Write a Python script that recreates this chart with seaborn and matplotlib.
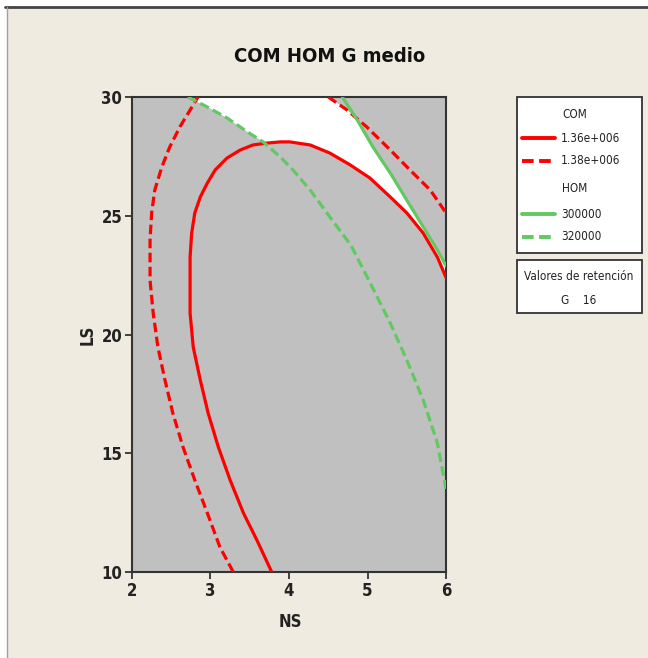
import numpy as np
import matplotlib
matplotlib.use("Agg")
import matplotlib.pyplot as plt
import seaborn as sns
from matplotlib.lines import Line2D
from matplotlib.patches import Rectangle

# ---- data: traced contour lines (NS, LS) ----
com_136_ns = [3.78, 3.59, 3.42, 3.25, 3.10, 2.97, 2.87, 2.78, 2.74, 2.74, 2.74, 2.76, 2.80, 2.87,
              2.96, 3.06, 3.21, 3.38, 3.54, 3.72, 3.89, 4.01, 4.27, 4.52, 4.78, 5.03, 5.29,
              5.50, 5.71, 5.89, 6.00]
com_136_ls = [10.0, 11.35, 12.48, 13.87, 15.26, 16.69, 18.08, 19.47, 20.9, 22.29, 23.26, 24.27,
              25.12, 25.79, 26.38, 26.93, 27.43, 27.77, 27.98, 28.06, 28.11, 28.11, 27.98, 27.64,
              27.14, 26.59, 25.79, 25.12, 24.27, 23.26, 22.40]

com_138a_ns = [3.29, 3.12, 2.96, 2.80, 2.65, 2.52, 2.42, 2.33, 2.27, 2.23, 2.23, 2.23, 2.25,
               2.29, 2.38, 2.48, 2.61, 2.74, 2.84]
com_138a_ls = [10.0, 11.05, 12.48, 13.87, 15.26, 16.69, 18.08, 19.47, 20.9, 22.29, 22.72, 23.98,
               25.12, 26.08, 27.05, 27.89, 28.74, 29.45, 30.0]
com_138b_ns = [4.50, 4.74, 4.99, 5.29, 5.54, 5.80, 6.00]
com_138b_ls = [30.0, 29.45, 28.74, 27.77, 26.93, 26.08, 25.12]

hom_300_ns = [4.68, 4.87, 5.07, 5.29, 5.50, 5.71, 5.89, 6.00]
hom_300_ls = [30.0, 29.03, 27.89, 26.8, 25.66, 24.53, 23.56, 22.90]

hom_320_ns = [2.71, 2.96, 3.21, 3.47, 3.67, 3.89, 4.05, 4.27, 4.52, 4.79, 5.03, 5.29, 5.50,
              5.71, 5.89, 6.00]
hom_320_ls = [30.0, 29.58, 29.12, 28.53, 28.11, 27.47, 26.93, 26.08, 24.95, 23.75, 22.2, 20.48,
              18.93, 17.24, 15.43, 13.5]

x_ticks = [2, 3, 4, 5, 6]
y_ticks = [10, 15, 20, 25, 30]
legend_com = ["1.36e+006", "1.38e+006"]
legend_hom = ["300000", "320000"]
hold_var, hold_val = "G", "16"

# ---- style ----
sns.set_style("ticks")
FONT = ['Liberation Sans Narrow', 'DejaVu Sans Condensed', 'DejaVu Sans']
plt.rcParams['font.family'] = FONT
plt.rcParams['font.stretch'] = 'condensed'
RED = "#FF0000"
GREEN = "#62C862"
BG = "#F0EBE0"
GRAY = "#C0C0C0"
W, H = 648, 658
TXT = dict(family=FONT, stretch="condensed")

fig = plt.figure(figsize=(6.48, 6.58), dpi=100, facecolor="white")
# beige panel + frame lines
fig.patches.append(Rectangle((7 / W, 0), 1 - 7 / W, 1 - 8 / H, transform=fig.transFigure,
                             facecolor=BG, edgecolor="none", zorder=-10))
fig.add_artist(Line2D([5 / W, 1], [1 - 7 / H, 1 - 7 / H], transform=fig.transFigure,
                      color="#444444", lw=2, zorder=-5))
fig.add_artist(Line2D([7 / W, 7 / W], [0, 1 - 7 / H], transform=fig.transFigure,
                      color="#A0A0A0", lw=1, zorder=-5))

ax = fig.add_axes([132 / W, 1 - 572 / H, (446 - 132) / W, (572 - 97) / H])
ax.set_zorder(5)
ax.set_facecolor(GRAY)

# white feasible region (between the traced contours)
xg = np.linspace(2.84, 6.0, 800)
rx = np.array(com_136_ns[10:], dtype=float)
ry = np.array(com_136_ls[10:], dtype=float)
lower = np.interp(xg, np.array(hom_320_ns, float), np.array(hom_320_ls, float))
red_low = np.interp(xg, rx, ry)
lower = np.where(xg >= rx[0], np.maximum(lower, red_low), lower)
upper = np.full_like(xg, 30.0)
g_up = np.interp(xg, np.array(hom_300_ns, float), np.array(hom_300_ls, float))
upper = np.where(xg >= hom_300_ns[0], np.minimum(upper, g_up), upper)
r_up = np.interp(xg, np.array(com_138b_ns, float), np.array(com_138b_ls, float))
upper = np.where(xg >= com_138b_ns[0], np.minimum(upper, r_up), upper)
bottom = np.minimum(lower, upper)
poly_x = np.concatenate([xg, xg[::-1]])
poly_y = np.concatenate([upper, bottom[::-1]])
ax.fill(poly_x, poly_y, color="white", lw=0, zorder=2)

LW = 2.3
DASH = (0, (3.0, 1.4))
kw = dict(sort=False, estimator=None, lw=LW, ax=ax, zorder=3)
sns.lineplot(x=com_136_ns, y=com_136_ls, color=RED, **kw)
sns.lineplot(x=com_138a_ns, y=com_138a_ls, color=RED, linestyle=DASH, **kw)
sns.lineplot(x=com_138b_ns, y=com_138b_ls, color=RED, linestyle=DASH, **kw)
sns.lineplot(x=hom_300_ns, y=hom_300_ls, color=GREEN, **kw)
sns.lineplot(x=hom_320_ns, y=hom_320_ls, color=GREEN, linestyle=DASH, **kw)
for ln in ax.lines:
    ln.set_solid_joinstyle("round")

ax.set_xlim(2, 6)
ax.set_ylim(10, 30)
ax.set_xticks(x_ticks)
ax.set_yticks(y_ticks)
ax.set_xticklabels([str(t) for t in x_ticks], fontsize=12, fontweight="bold", color="#222222", **TXT)
ax.set_yticklabels([str(t) for t in y_ticks], fontsize=12, fontweight="bold", color="#222222", **TXT)
ax.tick_params(direction="out", length=5, width=1.3, color="#333333", pad=2)
for s in ax.spines.values():
    s.set_color("#333333")
    s.set_linewidth(1.5)
ax.set_xlabel("")
ax.set_ylabel("")

fig.text(290 / W, 1 - 622 / H, "NS", ha="center", va="center", fontsize=12, fontweight="bold",
         color="#222222", **TXT)
fig.text(88 / W, 1 - 335 / H, "LS", ha="center", va="center", fontsize=12, fontweight="bold",
         rotation=90, color="#222222", **TXT)
fig.text(330 / W, 1 - 57 / H, "COM HOM G medio", ha="center", va="center", fontsize=14.5,
         fontweight="bold", color="#111111", **TXT)

# legend boxes
def px(x, y):
    return x / W, 1 - y / H

x0, x1 = 517, 642
fig.patches.append(Rectangle(px(x0, 253), (x1 - x0) / W, (253 - 97) / H, transform=fig.transFigure,
                             facecolor="white", edgecolor="#333333", lw=1.3, zorder=2))
fig.patches.append(Rectangle(px(x0, 313), (x1 - x0) / W, (313 - 260) / H, transform=fig.transFigure,
                             facecolor="white", edgecolor="#333333", lw=1.3, zorder=2))
LF = 8.5
fig.text(*px(562, 115), "COM", ha="left", va="center", fontsize=LF, color="#222222", zorder=3, **TXT)
fig.text(*px(562, 189), "HOM", ha="left", va="center", fontsize=LF, color="#222222", zorder=3, **TXT)
rows = [(138, RED, "-", legend_com[0]), (161, RED, DASH, legend_com[1]),
        (214, GREEN, "-", legend_hom[0]), (237, GREEN, DASH, legend_hom[1])]
for y, c, ls, lab in rows:
    fig.add_artist(Line2D([522 / W, 555 / W], [1 - y / H, 1 - y / H], transform=fig.transFigure,
                          color=c, lw=2.8, linestyle=ls, zorder=3))
    fig.text(*px(561, y), lab, ha="left", va="center", fontsize=LF, color="#222222", zorder=3, **TXT)
fig.text(*px(579, 276), "Valores de retención", ha="center", va="center", fontsize=LF,
         color="#222222", zorder=3, **TXT)
fig.text(*px(579, 300), f"{hold_var}    {hold_val}", ha="center", va="center", fontsize=LF,
         color="#222222", zorder=3, **TXT)

fig.savefig("out.png", dpi=100, facecolor=fig.get_facecolor())
